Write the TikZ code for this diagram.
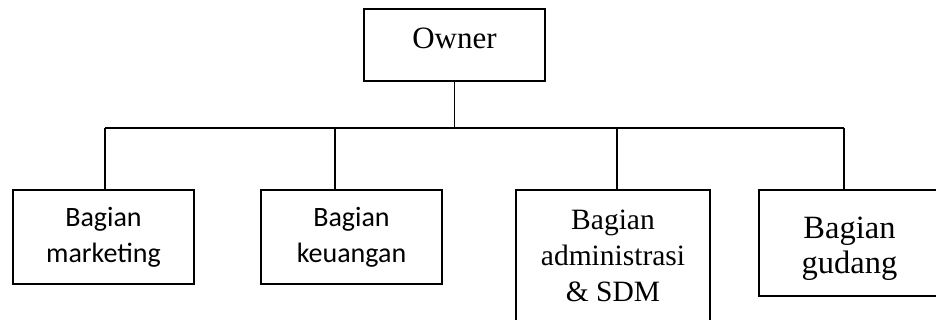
\documentclass[tikz,border=0pt]{standalone}
\usepackage{fontspec}
\setmainfont{Liberation Serif}
\newfontfamily\calibri{Carlito}
\begin{document}
\begin{tikzpicture}[x=1pt,y=-1pt,
    kotak/.style={draw,line width=2pt,inner sep=0pt,align=center,minimum width=181pt},
    garis/.style={line width=1.2pt}]
    \useasboundingbox (0,0) rectangle (936,320);
    \clip (0,0) rectangle (936,320);

    \node[kotak,minimum height=72pt,text depth=13pt,font=\fontsize{31}{37}\selectfont] (owner) at (454.5,45) {Owner};

    \node[kotak,minimum height=94pt,font=\calibri\fontsize{28}{36}\selectfont] (marketing) at (103.5,237) {Bagian\\marketing};
    \node[kotak,minimum height=94pt,font=\calibri\fontsize{28}{36}\selectfont] (keuangan) at (351.5,237) {Bagian\\keuangan};
    \node[kotak,minimum width=194pt,minimum height=132pt,font=\fontsize{29.5}{36}\selectfont] (admin) at (613,256) {Bagian\\administrasi\\\& SDM};
    \node[kotak,minimum height=106pt,font=\fontsize{32.5}{35}\selectfont] (gudang) at (849.5,243) {\rule{0pt}{34pt}Bagian\\gudang};

    % garis penghubung
    \coordinate (busL) at (105,128);
    \coordinate (busR) at (844,128);
    \draw[garis] (busL) -- (busR);
    \draw[garis] (owner.south) -- (owner.south |- busL);
    \foreach \x/\n in {105/marketing,335/keuangan,617/admin,844/gudang}
        {\draw[garis] (\x,128) -- (\x,128 |- \n.north);}
\end{tikzpicture}
\end{document}
